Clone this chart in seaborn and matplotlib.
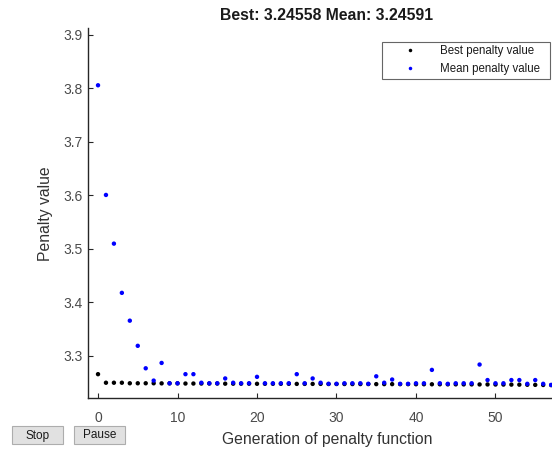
import numpy as np
import pandas as pd
import matplotlib
matplotlib.use("Agg")
import matplotlib.pyplot as plt
from matplotlib.patches import Rectangle
import seaborn as sns

# ---- data ----
generations = list(range(0, 58))
mean_values = [3.806, 3.601, 3.510, 3.418, 3.366, 3.319, 3.277, 3.254, 3.287, 3.249,
               3.249, 3.266, 3.266, 3.250, 3.249, 3.249, 3.258, 3.250, 3.249, 3.249,
               3.261, 3.249, 3.249, 3.249, 3.249, 3.266, 3.249, 3.258, 3.250, 3.248,
               3.248, 3.249, 3.249, 3.249, 3.248, 3.262, 3.250, 3.256, 3.248, 3.248,
               3.249, 3.249, 3.274, 3.249, 3.248, 3.249, 3.249, 3.249, 3.284, 3.255,
               3.249, 3.249, 3.255, 3.255, 3.248, 3.255, 3.248, 3.24591]
best_values = [3.266, 3.2500, 3.2500, 3.2500, 3.2490, 3.2490, 3.2490, 3.2490, 3.2488, 3.2488,
               3.2488, 3.2485, 3.2485, 3.2485, 3.2485, 3.2485, 3.2482, 3.2482, 3.2482, 3.2482,
               3.2480, 3.2480, 3.2480, 3.2480, 3.2480, 3.2478, 3.2478, 3.2478, 3.2478, 3.2476,
               3.2476, 3.2476, 3.2475, 3.2475, 3.2475, 3.2474, 3.2474, 3.2474, 3.2473, 3.2473,
               3.2472, 3.2472, 3.2471, 3.2471, 3.2470, 3.2470, 3.2469, 3.2469, 3.2468, 3.2468,
               3.2467, 3.2466, 3.2465, 3.2464, 3.2462, 3.2460, 3.2458, 3.24558]
series_labels = ["Best penalty value", "Mean penalty value"]
title_text = "Best: 3.24558 Mean: 3.24591"
x_label = "Generation of penalty function"
y_label = "Penalty value"
x_ticks = [0, 10, 20, 30, 40, 50]
y_ticks = [3.3, 3.4, 3.5, 3.6, 3.7, 3.8, 3.9]
button_labels = ["Stop", "Pause"]

df = pd.DataFrame({
    "generation": generations * 2,
    "value": best_values + mean_values,
    "series": [series_labels[0]] * len(generations) + [series_labels[1]] * len(generations),
})

sns.set_style("white")
plt.rcParams["font.family"] = ["Liberation Sans", "DejaVu Sans"]

W, H = 552, 449
fig = plt.figure(figsize=(W / 100, H / 100), dpi=100)
ax = fig.add_axes([88 / W, 1 - 398.3 / H, (566 - 88) / W, (398.3 - 28.3) / H])

sns.scatterplot(data=df, x="generation", y="value", hue="series",
                palette={series_labels[0]: "black", series_labels[1]: "#0000ff"},
                s=10, linewidth=0, ax=ax, legend=True)

ax.set_xlim(-1.26, 58.87)
ax.set_ylim(3.2209, 3.9125)
ax.set_xticks(x_ticks)
ax.set_yticks(y_ticks)
ax.set_yticklabels([f"{v:.1f}" for v in y_ticks])

for side in ["top", "right"]:
    ax.spines[side].set_visible(False)
for side in ["left", "bottom"]:
    ax.spines[side].set_color("#262626")
    ax.spines[side].set_linewidth(1.0)

ax.tick_params(axis="both", which="major", direction="in", length=3.5, width=0.8,
               colors="#262626", labelcolor="#4a4a4a", labelsize=10,
               bottom=True, left=True, top=False, right=False)
ax.tick_params(axis="x", pad=9)
ax.tick_params(axis="y", pad=4)

ax.set_xlabel(x_label, fontsize=11.3, color="#333333", labelpad=5)
ax.set_ylabel(y_label, fontsize=11.3, color="#333333", labelpad=7)
ax.set_title(title_text, fontsize=11.3, fontweight="bold", color="#1a1a1a", pad=6)

handles, labels = ax.get_legend_handles_labels()
leg = ax.legend(handles, labels, loc="upper left", mode="expand",
                bbox_to_anchor=(382 / W, 1 - 77.5 / H, 168 / W, 35.8 / H),
                bbox_transform=fig.transFigure, borderaxespad=0,
                fontsize=8.3, frameon=True, fancybox=False, borderpad=0.3,
                handletextpad=0.4, handlelength=4.3, labelspacing=0.55,
                markerscale=0.8)
leg.get_frame().set_edgecolor("#404040")
leg.get_frame().set_linewidth(0.8)
for t in leg.get_texts():
    t.set_color("#1a1a1a")

# UI buttons
for label, x0 in zip(button_labels, [12, 74]):
    fig.add_artist(Rectangle((x0 / W, 1 - 444 / H), 51 / W, 18 / H,
                             transform=fig.transFigure, fc="#e1e1e1", ec="#adadad", lw=0.8))
    fig.text((x0 + 25.5) / W, 1 - 435.5 / H, label, ha="center", va="center",
             fontsize=8.5, color="#1a1a1a")

fig.savefig("out.png", dpi=100)
